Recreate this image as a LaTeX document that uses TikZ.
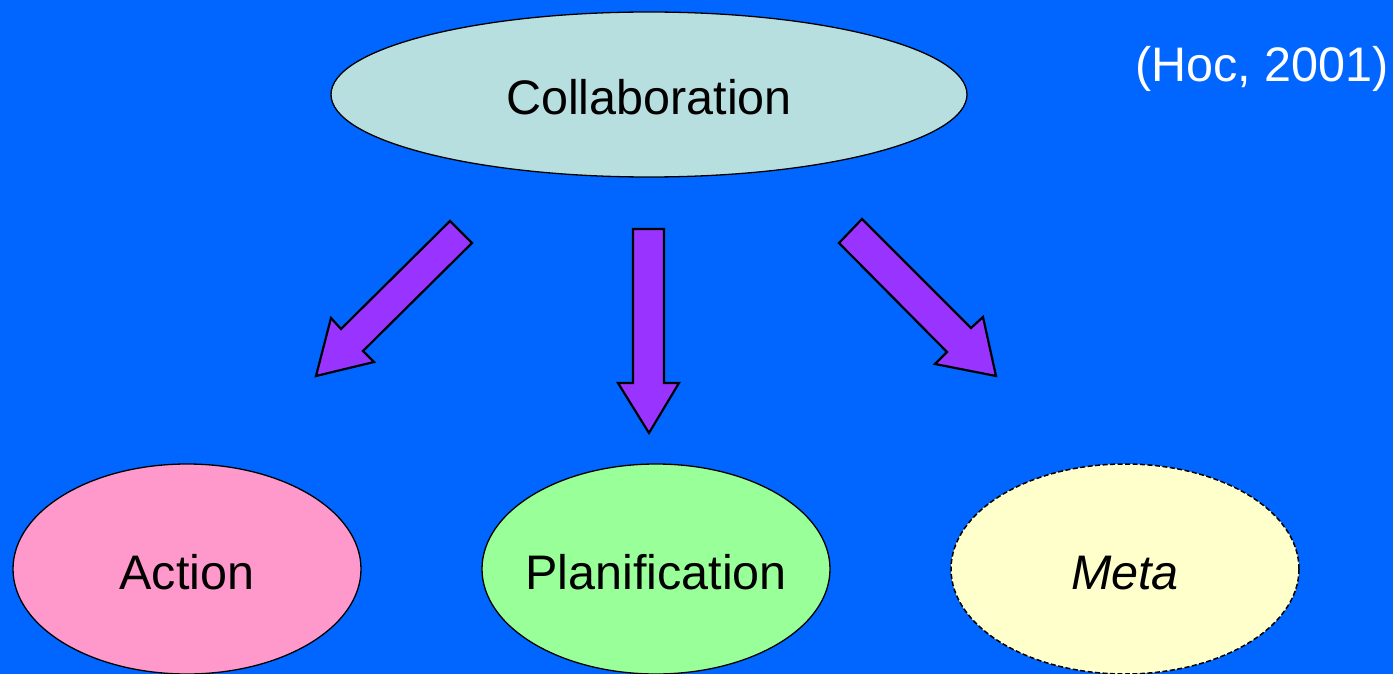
\documentclass[tikz,border=0pt]{standalone}
\usepackage{fontspec}
\setmainfont{Liberation Sans}
\usetikzlibrary{shapes.geometric}
\definecolor{bgblue}{HTML}{0066FF}
\definecolor{collabfill}{HTML}{B8DFE0}
\definecolor{actionfill}{HTML}{FF99CC}
\definecolor{planfill}{HTML}{99FF99}
\definecolor{metafill}{HTML}{FFFFCC}
\definecolor{arrowfill}{HTML}{9933FF}
\tikzset{
  bubble/.style={ellipse, draw=black, line width=1.3pt, inner sep=0pt,
    minimum width=348pt, minimum height=210pt, text height=40pt, text depth=0pt,
    font=\fontsize{48.5}{58}\selectfont},
  blockarrow/.style={fill=arrowfill, draw=black, line width=2.2pt, line join=miter},
}
\begin{document}
\begin{tikzpicture}[x=1pt,y=-1pt]
  \fill[bgblue] (0,0) rectangle (1393,674);
  \useasboundingbox (0,0) rectangle (1393,674);

  % top concept
  \node[bubble, fill=collabfill, minimum width=636pt, minimum height=165pt]
    (collab) at (649,94.5) {Collaboration};
  \node[text=white, font=\fontsize{48.5}{58}\selectfont, anchor=center]
    (ref) at (1262,69) {(Hoc, 2001)};

  % three sub-concepts (labels kept zero-width so the ellipses keep their size)
  \node[bubble, fill=actionfill] (action) at (187,569) {\makebox[0pt]{Action}};
  \node[bubble, fill=planfill] (plan) at (656,569) {\makebox[0pt]{Planification}};
  \node[bubble, fill=metafill, line width=1.5pt, dash pattern=on 5pt off 2.5pt]
    (meta) at (1125,569) {\makebox[0pt]{\itshape Meta}};

  % block arrows
  \draw[blockarrow] (450,221) -- (472,243) -- (363,351) -- (374,362)
    -- (316,376) -- (331,318) -- (341,329) -- cycle;
  \draw[blockarrow] (633,229) -- (664,229) -- (664,383) -- (679,383)
    -- (649,433) -- (618,383) -- (633,383) -- cycle;
  \draw[blockarrow] (862,219) -- (839,243) -- (947,352) -- (935,364)
    -- (996,376) -- (983,317) -- (971,328) -- cycle;
\end{tikzpicture}
\end{document}
